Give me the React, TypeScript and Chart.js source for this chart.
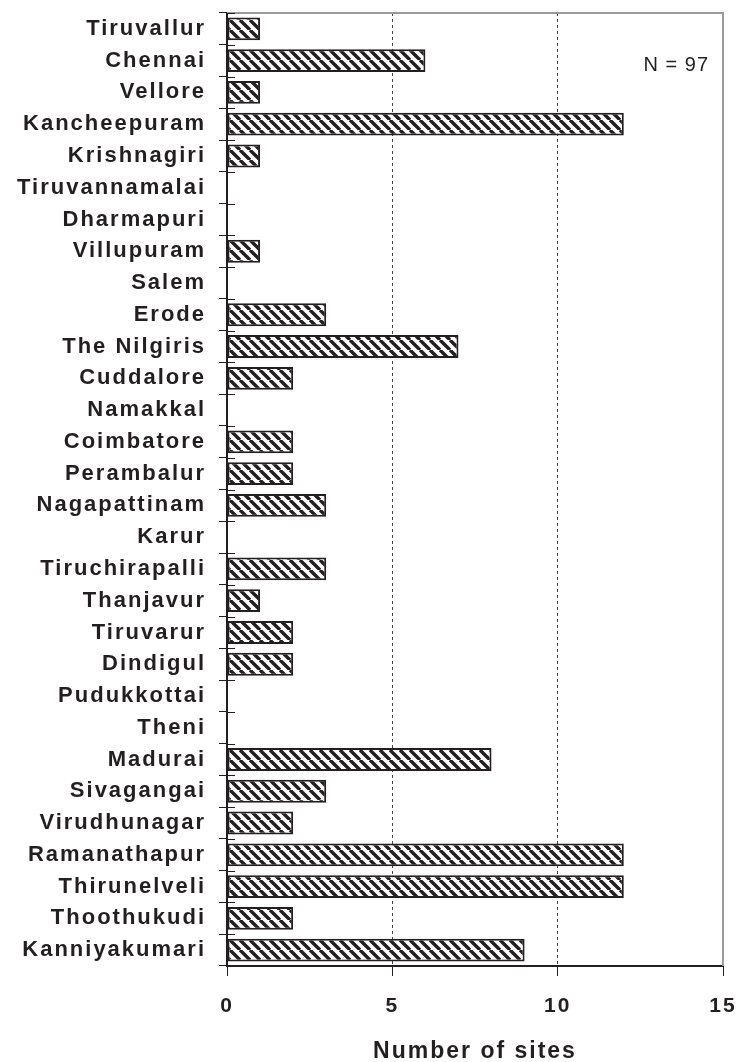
import React, { useEffect, useRef } from "react";
import { Chart, registerables } from "chart.js";

Chart.register(...registerables);

const districts = [
  "Tiruvallur", "Chennai", "Vellore", "Kancheepuram", "Krishnagiri",
  "Tiruvannamalai", "Dharmapuri", "Villupuram", "Salem", "Erode",
  "The Nilgiris", "Cuddalore", "Namakkal", "Coimbatore", "Perambalur",
  "Nagapattinam", "Karur", "Tiruchirapalli", "Thanjavur", "Tiruvarur",
  "Dindigul", "Pudukkottai", "Theni", "Madurai", "Sivagangai",
  "Virudhunagar", "Ramanathapur", "Thirunelveli", "Thoothukudi", "Kanniyakumari",
];
const sites = [
  1, 6, 1, 12, 1,
  0, 0, 1, 0, 3,
  7, 2, 0, 2, 2,
  3, 0, 3, 1, 2,
  2, 0, 0, 8, 3,
  2, 12, 12, 2, 9,
];
const xTicks = [0, 5, 10, 15];
const xTitle = "Number of sites";
const annotation = "N = 97";

const INK = "#231f20";
const FONT = "'Liberation Sans', Arial, Helvetica, sans-serif";

function makeHatch(ctx: CanvasRenderingContext2D) {
  const s = 10;
  const c = document.createElement("canvas");
  c.width = s;
  c.height = s;
  const p = c.getContext("2d")!;
  p.fillStyle = "#ffffff";
  p.fillRect(0, 0, s, s);
  p.strokeStyle = INK;
  p.lineWidth = 3.4;
  p.beginPath();
  for (let k = -2; k <= 2; k++) {
    p.moveTo(k * s, 0);
    p.lineTo(k * s + s, s);
  }
  p.stroke();
  return ctx.createPattern(c, "repeat")!;
}

const zeroPad = (scale: any) => {
  scale.paddingTop = 0;
  scale.paddingBottom = 0;
  scale.paddingLeft = 0;
  scale.paddingRight = 0;
};

const framePlugin = {
  id: "frame",
  beforeDraw(chart: any) {
    chart.ctx.letterSpacing = "2px";
  },
  afterDraw(chart: any) {
    const { ctx, chartArea } = chart;
    const y = chart.scales.y;
    ctx.save();
    ctx.strokeStyle = "#9a9a9a";
    ctx.lineWidth = 2;
    ctx.beginPath();
    ctx.moveTo(chartArea.left, chartArea.top);
    ctx.lineTo(chartArea.right, chartArea.top);
    ctx.lineTo(chartArea.right, chartArea.bottom);
    ctx.stroke();
    ctx.strokeStyle = INK;
    ctx.lineWidth = 1;
    ctx.beginPath();
    for (let i = 0; i <= districts.length; i++) {
      const py = Math.round(y.getPixelForValue(i - 0.5)) + 0.5;
      ctx.moveTo(chartArea.left, py);
      ctx.lineTo(chartArea.left + 8, py);
    }
    ctx.stroke();
    ctx.letterSpacing = "1px";
    ctx.fillStyle = INK;
    ctx.font = `20px ${FONT}`;
    ctx.textAlign = "right";
    ctx.textBaseline = "middle";
    ctx.fillText(annotation, chartArea.right - 14, chartArea.top + 52);
    ctx.restore();
  },
};

export default function App() {
  const ref = useRef<HTMLCanvasElement | null>(null);

  useEffect(() => {
    document.body.style.margin = "0";
    const canvas = ref.current!;
    const ctx = canvas.getContext("2d")!;
    const hatch = makeHatch(ctx);
    const chart = new Chart(canvas, {
      type: "bar",
      data: {
        labels: districts,
        datasets: [
          {
            data: sites,
            backgroundColor: hatch,
            borderColor: INK,
            borderWidth: 2,
            borderSkipped: false,
            barPercentage: 0.72,
            categoryPercentage: 1,
          },
        ],
      },
      options: {
        indexAxis: "y",
        animation: false,
        responsive: false,
        devicePixelRatio: 1,
        layout: { padding: { top: 13, right: 14, left: 0, bottom: 0 } },
        plugins: { legend: { display: false }, tooltip: { enabled: false } },
        scales: {
          x: {
            type: "linear",
            min: 0,
            max: 15,
            afterBuildTicks: (scale: any) => {
              scale.ticks = xTicks.map((v) => ({ value: v }));
            },
            afterFit: (scale: any) => {
              scale.height = 96;
              zeroPad(scale);
            },
            grid: {
              color: (c: any) =>
                c.tick && (c.tick.value === 5 || c.tick.value === 10) ? "#444" : "rgba(0,0,0,0)",
              lineWidth: 1,
              tickColor: INK,
              tickBorderDash: [],
              tickLength: 10,
              tickWidth: 1,
            },
            border: { display: true, color: INK, width: 2, dash: [3, 3] },
            ticks: {
              color: INK,
              font: { family: FONT, size: 21, weight: "bold" },
              padding: 18,
              maxRotation: 0,
            },
            title: {
              display: true,
              text: xTitle,
              color: INK,
              font: { family: FONT, size: 23, weight: "bold" },
              padding: { top: 0, bottom: -3 },
            },
          },
          y: {
            type: "category",
            afterFit: (scale: any) => {
              scale.width = 227;
              zeroPad(scale);
            },
            grid: {
              offset: true,
              drawOnChartArea: false,
              drawTicks: true,
              tickLength: 8,
              color: INK,
              tickColor: INK,
            },
            border: { display: true, color: INK, width: 2 },
            ticks: {
              autoSkip: false,
              color: INK,
              font: { family: FONT, size: 22, weight: "bold" },
              padding: 13,
            },
          },
        },
      },
      plugins: [framePlugin],
    });
    return () => chart.destroy();
  }, []);

  return (
    <div style={{ width: 737, height: 1062 }}>
      <canvas ref={ref} width={737} height={1062} style={{ display: "block" }} />
    </div>
  );
}
